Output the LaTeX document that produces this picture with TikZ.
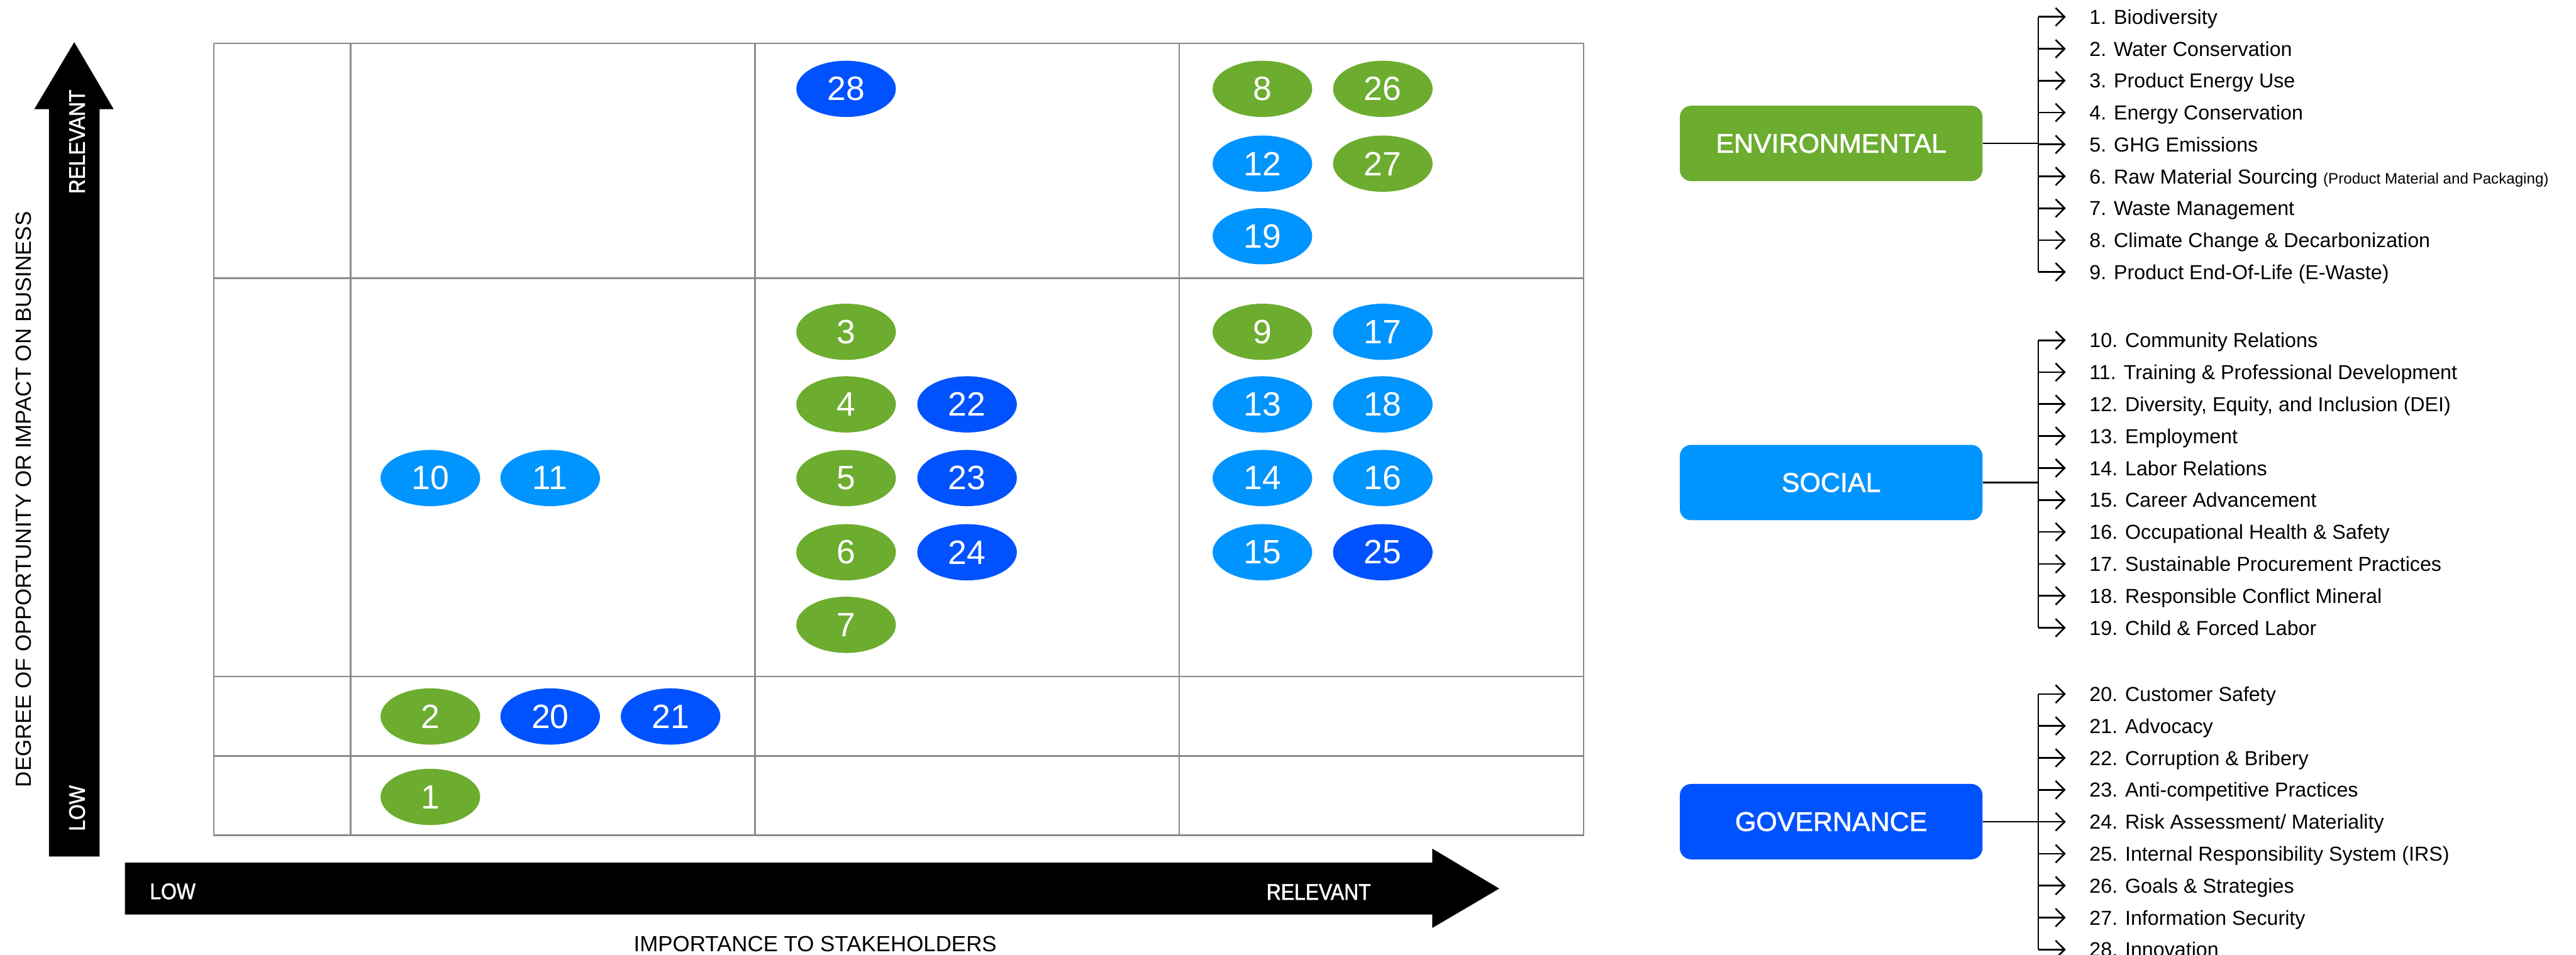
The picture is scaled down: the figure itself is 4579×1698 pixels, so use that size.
\documentclass[tikz,border=0pt]{standalone}
\usepackage{fontspec}
\setmainfont{Liberation Sans}
\newfontfamily\axisnarrow[FakeStretch=0.89,FakeBold=1.5]{Liberation Sans}
\newfontfamily\catfont[FakeBold=1.5]{Liberation Sans}
\usetikzlibrary{arrows.meta,shapes.geometric}

\definecolor{envgreen}{HTML}{6CAC2F}
\definecolor{socblue}{HTML}{0094FF}
\definecolor{govblue}{HTML}{0052FF}
\definecolor{gridgray}{HTML}{8A8A8A}

\tikzset{
  gridline/.style={draw=gridgray, line width=3pt},
  issue/.style={ellipse, minimum width=177pt, minimum height=100pt, inner sep=0pt,
    text=white, font=\fontsize{60}{60}\selectfont},
  env/.style={issue, fill=envgreen},
  soc/.style={issue, fill=socblue},
  gov/.style={issue, fill=govblue},
  catbox/.style={rectangle, rounded corners=20pt, minimum width=538pt, minimum height=134pt,
    text=white, font=\catfont\fontsize{48}{48}\selectfont},
  legitem/.style={anchor=west, inner sep=0pt, text height=26pt, text depth=0pt,
    font=\fontsize{36}{40}\selectfont},
  legline/.style={line width=3pt, black},
  legarrow/.style={legline, -{Straight Barb[length=16pt, width=32pt, line width=3pt]}},
  axistitle/.style={font=\fontsize{39}{39}\selectfont, inner sep=0pt},
  axismark/.style={text=white, font=\axisnarrow\fontsize{40}{40}\selectfont, inner sep=0pt},
}

\begin{document}
\begin{tikzpicture}[x=1pt, y=-1pt]
\useasboundingbox (0,0) rectangle (4579,1698);

% ---------- matrix grid ----------
\draw[gridline] (380,77) rectangle (2815,1485);
\foreach \gx in {623,1342,2096} \draw[gridline] (\gx,77) -- (\gx,1485);
\foreach \gy in {495,1203,1344} \draw[gridline] (380,\gy) -- (2815,\gy);

% ---------- axis arrows ----------
\fill[black] (87,1523) -- (87,194) -- (61,194) -- (132,75) -- (202,194) -- (177,194) -- (177,1523) -- cycle;
\fill[black] (222,1534) -- (2546,1534) -- (2546,1509) -- (2665,1580) -- (2546,1650) -- (2546,1626) -- (222,1626) -- cycle;

\node[axismark, rotate=90] (yhigh) at (137,252) {RELEVANT};
\node[axismark, rotate=90] (ylow) at (137,1437) {LOW};
\node[axismark] (xlow) at (307,1585) {LOW};
\node[axismark] (xhigh) at (2344,1586) {RELEVANT};

\node[axistitle, rotate=90] (ytitle) at (42,888) {DEGREE OF OPPORTUNITY OR IMPACT ON BUSINESS};
\node[axistitle] (xtitle) at (1449,1679) {IMPORTANCE TO STAKEHOLDERS};

% ---------- issues ----------
% high business impact row
\node[gov] (i28) at (1504,158) {28};
\node[env] (i8)  at (2244,158) {8};
\node[env] (i26) at (2458,158) {26};
\node[soc] (i12) at (2244,291) {12};
\node[env] (i27) at (2458,291) {27};
\node[soc] (i19) at (2244,420) {19};

% medium row
\node[soc] (i10) at (765,850) {10};
\node[soc] (i11) at (978,850) {11};
\node[env] (i3)  at (1504,590) {3};
\node[env] (i4)  at (1504,719) {4};
\node[gov] (i22) at (1719,719) {22};
\node[env] (i5)  at (1504,850) {5};
\node[gov] (i23) at (1719,850) {23};
\node[env] (i6)  at (1504,982) {6};
\node[gov] (i24) at (1719,982) {24};
\node[env] (i7)  at (1504,1111) {7};
\node[env] (i9)  at (2244,590) {9};
\node[soc] (i17) at (2458,590) {17};
\node[soc] (i13) at (2244,719) {13};
\node[soc] (i18) at (2458,719) {18};
\node[soc] (i14) at (2244,850) {14};
\node[soc] (i16) at (2458,850) {16};
\node[soc] (i15) at (2244,982) {15};
\node[gov] (i25) at (2458,982) {25};

% low rows
\node[env] (i2)  at (765,1274) {2};
\node[gov] (i20) at (978,1274) {20};
\node[gov] (i21) at (1192,1274) {21};
\node[env] (i1)  at (765,1417) {1};

% ---------- legend ----------
\coordinate (trunk) at (3623,0);

\node[catbox, fill=envgreen] (envbox) at (3255,255) {ENVIRONMENTAL};
\node[legitem] (e1) at (3714,30) {1. Biodiversity};
\node[legitem] (e2) at (3714,86.7) {2. Water Conservation};
\node[legitem] (e3) at (3714,143.4) {3. Product Energy Use};
\node[legitem] (e4) at (3714,200.1) {4. Energy Conservation};
\node[legitem] (e5) at (3714,256.8) {5. GHG Emissions};
\node[legitem] (e6) at (3714,313.5) {6. Raw Material Sourcing {\fontsize{27}{30}\selectfont(Product Material and Packaging)}};
\node[legitem] (e7) at (3714,370.2) {7. Waste Management};
\node[legitem] (e8) at (3714,426.9) {8. Climate Change \& Decarbonization};
\node[legitem] (e9) at (3714,483.6) {9. Product End-Of-Life (E-Waste)};
\draw[legline] (envbox.east) -- (trunk |- envbox.east);
\draw[legline] (trunk |- e1.west) -- (trunk |- e9.west);
\foreach \k in {1,...,9} \draw[legarrow] (trunk |- e\k.west) -- ([xshift=-42pt]e\k.west);

\node[catbox, fill=socblue] (socbox) at (3255,858) {SOCIAL};
\node[legitem] (s10) at (3714,605) {10. Community Relations};
\node[legitem] (s11) at (3714,661.8) {11. Training \& Professional Development};
\node[legitem] (s12) at (3714,718.6) {12. Diversity, Equity, and Inclusion (DEI)};
\node[legitem] (s13) at (3714,775.4) {13. Employment};
\node[legitem] (s14) at (3714,832.2) {14. Labor Relations};
\node[legitem] (s15) at (3714,889) {15. Career Advancement};
\node[legitem] (s16) at (3714,945.8) {16. Occupational Health \& Safety};
\node[legitem] (s17) at (3714,1002.6) {17. Sustainable Procurement Practices};
\node[legitem] (s18) at (3714,1059.4) {18. Responsible Conflict Mineral};
\node[legitem] (s19) at (3714,1116.2) {19. Child \& Forced Labor};
\draw[legline] (socbox.east) -- (trunk |- socbox.east);
\draw[legline] (trunk |- s10.west) -- (trunk |- s19.west);
\foreach \k in {10,...,19} \draw[legarrow] (trunk |- s\k.west) -- ([xshift=-42pt]s\k.west);

\node[catbox, fill=govblue] (govbox) at (3255,1461) {GOVERNANCE};
\node[legitem] (g20) at (3714,1234) {20. Customer Safety};
\node[legitem] (g21) at (3714,1290.8) {21. Advocacy};
\node[legitem] (g22) at (3714,1347.6) {22. Corruption \& Bribery};
\node[legitem] (g23) at (3714,1404.4) {23. Anti-competitive Practices};
\node[legitem] (g24) at (3714,1461.2) {24. Risk Assessment/ Materiality};
\node[legitem] (g25) at (3714,1518) {25. Internal Responsibility System (IRS)};
\node[legitem] (g26) at (3714,1574.8) {26. Goals \& Strategies};
\node[legitem] (g27) at (3714,1631.6) {27. Information Security};
\node[legitem] (g28) at (3714,1688.4) {28. Innovation};
\draw[legline] (govbox.east) -- (trunk |- govbox.east);
\draw[legline] (trunk |- g20.west) -- (trunk |- g28.west);
\foreach \k in {20,...,28} \draw[legarrow] (trunk |- g\k.west) -- ([xshift=-42pt]g\k.west);
\end{tikzpicture}
\end{document}
